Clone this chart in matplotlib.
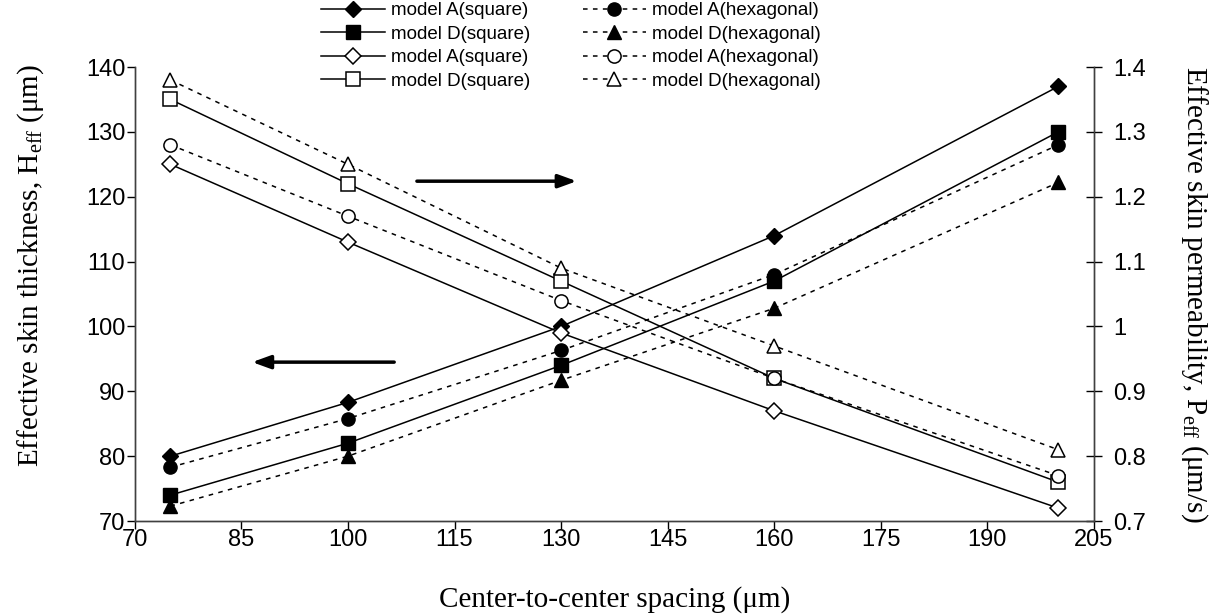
import matplotlib
matplotlib.use("Agg")
import matplotlib.pyplot as plt

plt.rcParams["mathtext.fontset"] = "custom"
plt.rcParams["mathtext.rm"] = "Liberation Serif"
plt.rcParams["mathtext.it"] = "Liberation Serif:italic"

# Center-to-center spacing (um)
spacing = [75, 100, 130, 160, 200]

# Effective skin thickness H_eff (um), left axis
h_a_square = [80.0, 88.3, 100.0, 114.0, 137.0]
h_d_square = [74.0, 82.0, 94.0, 107.0, 130.0]
h_a_hex = [78.3, 85.8, 96.3, 108.0, 128.0]
h_d_hex = [72.3, 80.0, 91.7, 102.8, 122.2]

# Effective skin permeability P_eff (um/s), right axis
p_a_square = [1.25, 1.13, 0.99, 0.87, 0.72]
p_d_square = [1.35, 1.22, 1.07, 0.92, 0.76]
p_a_hex = [1.28, 1.17, 1.04, 0.92, 0.77]
p_d_hex = [1.38, 1.25, 1.09, 0.97, 0.81]

x_ticks = [70, 85, 100, 115, 130, 145, 160, 175, 190, 205]
left_ticks = [70, 80, 90, 100, 110, 120, 130, 140]
right_ticks = [0.7, 0.8, 0.9, 1.0, 1.1, 1.2, 1.3, 1.4]
right_ticklabels = ["0.7", "0.8", "0.9", "1", "1.1", "1.2", "1.3", "1.4"]

tick_font = "Liberation Sans"
label_font = "Liberation Serif"

fig = plt.figure(figsize=(12.18, 6.15), dpi=100)
ax = fig.add_axes([0.1108, 0.1528, 0.7872, 0.7382])
ax2 = ax.twinx()

solid = dict(color="black", linestyle="-", linewidth=1.1)
dotted = dict(color="black", linestyle=(0, (3, 3.5)), linewidth=1.1)

# Thickness curves (filled markers)
l1, = ax.plot(spacing, h_a_square, marker="D", markersize=8, markerfacecolor="black",
              markeredgecolor="black", label="model A(square)", **solid)
l2, = ax.plot(spacing, h_d_square, marker="s", markersize=9.5, markerfacecolor="black",
              markeredgecolor="black", label="model D(square)", **solid)
l5, = ax.plot(spacing, h_a_hex, marker="o", markersize=9.5, markerfacecolor="black",
              markeredgecolor="black", label="model A(hexagonal)", **dotted)
l6, = ax.plot(spacing, h_d_hex, marker="^", markersize=10.5, markerfacecolor="black",
              markeredgecolor="black", label="model D(hexagonal)", **dotted)

# Permeability curves (open markers)
l3, = ax2.plot(spacing, p_a_square, marker="D", markersize=8, markerfacecolor="white",
               markeredgecolor="black", markeredgewidth=1.1, label="model A(square)", **solid)
l4, = ax2.plot(spacing, p_d_square, marker="s", markersize=9.5, markerfacecolor="white",
               markeredgecolor="black", markeredgewidth=1.1, label="model D(square)", **solid)
l7, = ax2.plot(spacing, p_a_hex, marker="o", markersize=9.5, markerfacecolor="white",
               markeredgecolor="black", markeredgewidth=1.1, label="model A(hexagonal)", **dotted)
l8, = ax2.plot(spacing, p_d_hex, marker="^", markersize=10.5, markerfacecolor="white",
               markeredgecolor="black", markeredgewidth=1.1, label="model D(hexagonal)", **dotted)

ax.set_xlim(70, 205)
ax.set_ylim(70, 140)
ax2.set_ylim(0.7, 1.4)

ax.set_xticks(x_ticks)
ax.set_xticklabels([str(t) for t in x_ticks], fontfamily=tick_font, fontsize=17)
ax.set_yticks(left_ticks)
ax.set_yticklabels([str(t) for t in left_ticks], fontfamily=tick_font, fontsize=17)
ax2.set_yticks(right_ticks)
ax2.set_yticklabels(right_ticklabels, fontfamily=tick_font, fontsize=17)

ax.tick_params(axis="x", direction="out", length=6, width=1, colors="black", pad=0)
ax.tick_params(axis="y", direction="out", length=6, width=1, colors="black", pad=1)
ax2.tick_params(axis="y", direction="inout", length=12, width=1, colors="black", pad=8)

for a in (ax, ax2):
    a.spines["top"].set_visible(False)
    for s in ("left", "right", "bottom"):
        a.spines[s].set_color("#404040")
        a.spines[s].set_linewidth(1.0)

ax.set_xlabel("Center-to-center spacing (μm)", fontfamily=label_font, fontsize=21, labelpad=25)
ax.set_ylabel(r"Effective skin thickness, H$_{\mathrm{eff}}$ (μm)",
              fontfamily=label_font, fontsize=21, labelpad=29)
ax.yaxis.label.set_y(0.562)
ax2.set_ylabel(r"Effective skin permeability, P$_{\mathrm{eff}}$ (μm/s)",
               fontfamily=label_font, fontsize=21, rotation=270, labelpad=46)

# Arrows pointing to the axis each curve family belongs to
arrow_style = dict(arrowstyle="-|>,head_length=1.1,head_width=0.4",
                   color="black", lw=2.5, shrinkA=0, shrinkB=0)
ax.annotate("", xy=(132.2, 122.4), xytext=(109.7, 122.4), arrowprops=arrow_style)
ax.annotate("", xy=(86.5, 94.5), xytext=(106.5, 94.5), arrowprops=arrow_style)

handles = [l1, l2, l3, l4, l5, l6, l7, l8]
leg = fig.legend(handles=handles, labels=[h.get_label() for h in handles], ncol=2,
                 loc="upper left", bbox_to_anchor=(0.250, 1.024), frameon=False,
                 prop={"family": tick_font, "size": 13.5}, handlelength=3.4,
                 handletextpad=0.3, labelspacing=0.34, columnspacing=2.8)

fig.savefig("out.png", dpi=100)
